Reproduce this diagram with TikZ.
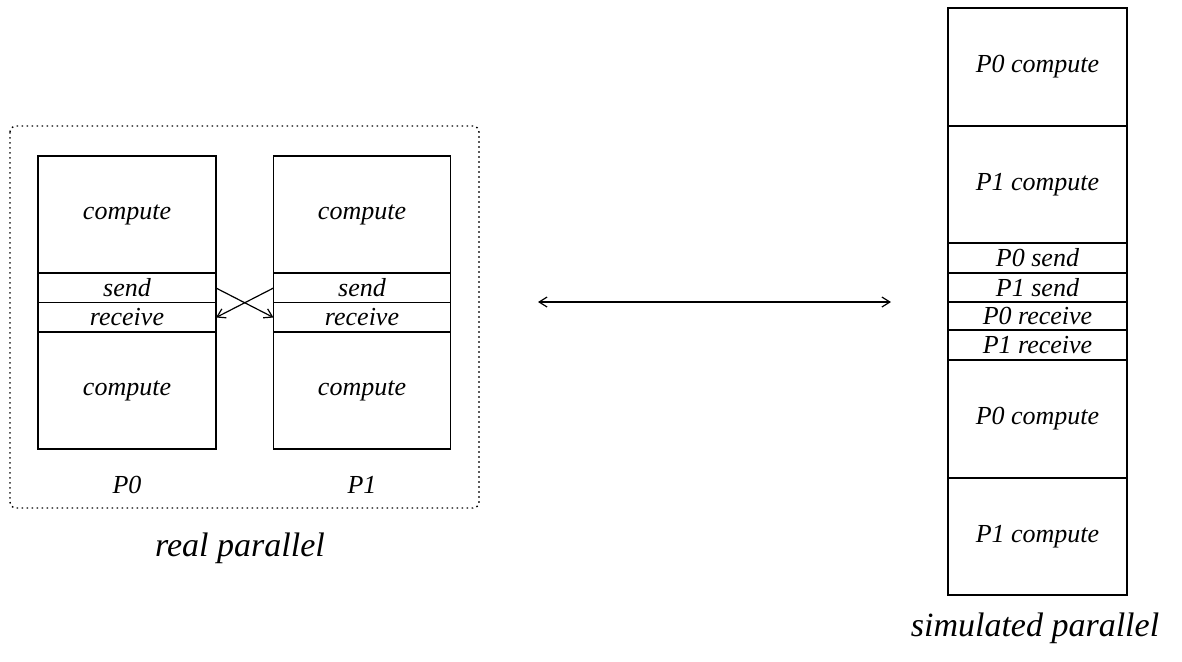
\documentclass[tikz,border=0pt]{standalone}
\usepackage{fontspec}
\setmainfont{Liberation Serif}
\usetikzlibrary{arrows.meta}
\begin{document}
\begin{tikzpicture}[x=0.5pt,y=-0.5pt,
  font=\fontsize{13}{15}\selectfont\itshape,
  cell/.style={draw, line width=0.7pt, inner sep=0pt, outer sep=0pt,
    minimum width=#1*0.5pt},
  tall/.style={minimum height=117*0.5pt},
  thin/.style={minimum height=29.5*0.5pt},
  msg/.style={line width=0.6pt, -{Straight Barb[length=4pt,width=5pt]}},
  bigcap/.style={font=\fontsize{17}{20}\selectfont\itshape}]
\useasboundingbox (0,0) rectangle (1182,661);

% frame round the two processors
\draw[line width=0.7pt, dash pattern=on 0.8pt off 1.7pt, rounded corners=3pt]
  (10,126) rectangle (479,508);

% processor P0
\node[cell=178, tall] (a1) at (127,214.5) {compute};
\node[cell=178, thin] (a2) at (127,288) {send};
\node[cell=178, thin] (a3) at (127,317.5) {receive};
\node[cell=178, tall] (a4) at (127,390.5) {compute};
\node (pa) at (127,485) {P0};

% processor P1
\node[cell=177, tall] (b1) at (362,214.5) {compute};
\node[cell=177, thin] (b2) at (362,288) {send};
\node[cell=177, thin] (b3) at (362,317.5) {receive};
\node[cell=177, tall] (b4) at (362,390.5) {compute};
\node (pb) at (362,485) {P1};

% messages exchanged
\draw[msg] (a2.east) -- (b3.west);
\draw[msg] (b2.west) -- (a3.east);

\node[bigcap] (rp) at (240,548) {real parallel};

% equivalence arrow
\coordinate (la) at (538,302);
\coordinate (ra) at (891,302);
\draw[line width=0.6pt, {Straight Barb[length=4pt,width=5pt]}-{Straight Barb[length=4pt,width=5pt]}] (la) -- (ra);

% sequential schedule
\node[cell=179, minimum height=118*0.5pt] (s1) at (1037.5,67) {P0 compute};
\node[cell=179, tall] (s2) at (1037.5,184.5) {P1 compute};
\node[cell=179, minimum height=30*0.5pt] (s3) at (1037.5,258) {P0 send};
\node[cell=179, minimum height=29*0.5pt] (s4) at (1037.5,287.5) {P1 send};
\node[cell=179, minimum height=28*0.5pt] (s5) at (1037.5,316) {P0 receive};
\node[cell=179, minimum height=30*0.5pt] (s6) at (1037.5,345) {P1 receive};
\node[cell=179, minimum height=118*0.5pt] (s7) at (1037.5,419) {P0 compute};
\node[cell=179, tall] (s8) at (1037.5,536.5) {P1 compute};

\node[bigcap] (sp) at (1035,628) {simulated parallel};
\end{tikzpicture}
\end{document}
